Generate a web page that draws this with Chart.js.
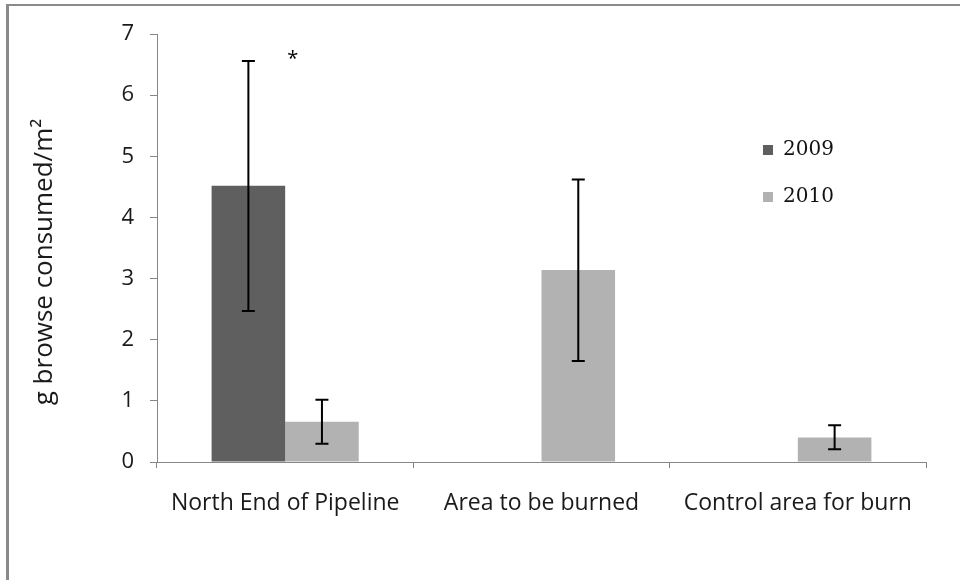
<!DOCTYPE html>
<html>
<head>
<meta charset="utf-8">
<script src="https://cdn.jsdelivr.net/npm/chart.js@4.4.1/dist/chart.umd.min.js"></script>
<style>
  html, body { margin: 0; padding: 0; background: #fff; }
  #wrap { position: relative; width: 960px; height: 580px; overflow: hidden; }
  #frame { position: absolute; left: 6px; top: 4px; width: 1000px; height: 1000px;
           border-left: 3px solid #8a8a8a; border-top: 2px solid #8a8a8a; }
  canvas { position: absolute; left: 0; top: 0; }
</style>
</head>
<body>
<div id="wrap">
  <div id="frame"></div>
  <canvas id="chart" width="960" height="580"></canvas>
</div>
<script>
// browse consumption per site, mean with error range
const sites = ['North End of Pipeline', 'Area to be burned', 'Control area for burn'];
const years = ['2009', '2010'];
const mean2009 = [4.52, null, null];
const low2009 = [2.47, null, null];
const high2009 = [6.56, null, null];
const mean2010 = [0.66, 3.14, 0.40];
const low2010 = [0.30, 1.65, 0.21];
const high2010 = [1.02, 4.62, 0.60];
const marks2009 = ['*', '', ''];
const yTicks = [0, 1, 2, 3, 4, 5, 6, 7];
const yTitle = 'g browse consumed/m²';

const colors = ['#5f5f5f', '#b2b2b2'];
const axisGray = '#868686';
const sansFont = "'Open Sans', sans-serif";

const errorBars = {
  id: 'errorBars',
  afterDatasetsDraw(chart) {
    const ctx = chart.ctx;
    const y = chart.scales.y;
    chart.data.datasets.forEach((ds, i) => {
      const meta = chart.getDatasetMeta(i);
      meta.data.forEach((bar, j) => {
        if (ds.low[j] == null) return;
        const yl = y.getPixelForValue(ds.low[j]);
        const yh = y.getPixelForValue(ds.high[j]);
        ctx.save();
        ctx.strokeStyle = '#000';
        ctx.lineWidth = 2;
        ctx.beginPath();
        ctx.moveTo(bar.x, yl); ctx.lineTo(bar.x, yh);
        ctx.moveTo(bar.x - 6.5, yl); ctx.lineTo(bar.x + 6.5, yl);
        ctx.moveTo(bar.x - 6.5, yh); ctx.lineTo(bar.x + 6.5, yh);
        ctx.stroke();
        if (ds.marks && ds.marks[j]) {
          ctx.fillStyle = '#000';
          ctx.font = "20px " + sansFont;
          ctx.textAlign = 'left';
          ctx.textBaseline = 'middle';
          ctx.fillText(ds.marks[j], bar.x + bar.width / 2 + 2, yh - 2);
        }
        ctx.restore();
      });
    });
  }
};

// legend sits inside the plot, to the right
const sideLegend = {
  id: 'sideLegend',
  afterDraw(chart) {
    const ctx = chart.ctx;
    ctx.save();
    ctx.font = "20px 'DejaVu Serif', serif";
    ctx.textBaseline = 'middle';
    chart.data.datasets.forEach((ds, i) => {
      const cy = 150 + i * 47;
      ctx.fillStyle = ds.backgroundColor;
      ctx.fillRect(763, cy - 5, 10, 10);
      ctx.fillStyle = '#111';
      ctx.fillText(ds.label, 783, cy);
    });
    ctx.restore();
  }
};

// rotated y title, a little below the plot middle
const yTitleLabel = {
  id: 'yTitleLabel',
  afterDraw(chart) {
    const ctx = chart.ctx;
    ctx.save();
    ctx.translate(45, 262);
    ctx.rotate(-Math.PI / 2);
    ctx.font = "26px " + sansFont;
    ctx.fillStyle = '#1a1a1a';
    ctx.textAlign = 'center';
    ctx.textBaseline = 'middle';
    ctx.fillText(yTitle, 0, 0);
    ctx.restore();
  }
};

new Chart(document.getElementById('chart'), {
  type: 'bar',
  data: {
    labels: sites,
    datasets: [
      { label: years[0], data: mean2009, low: low2009, high: high2009, marks: marks2009,
        backgroundColor: colors[0] },
      { label: years[1], data: mean2010, low: low2010, high: high2010,
        backgroundColor: colors[1] }
    ]
  },
  options: {
    responsive: false,
    animation: false,
    categoryPercentage: 0.574,
    barPercentage: 1,
    layout: { padding: { top: 34, right: 34, left: 0, bottom: 0 } },
    plugins: { legend: { display: false }, tooltip: { enabled: false } },
    scales: {
      x: {
        grid: { offset: true, drawOnChartArea: false, color: axisGray, tickLength: 6 },
        border: { color: axisGray },
        ticks: { color: '#1a1a1a', font: { family: sansFont, size: 23 }, padding: 22 },
        afterFit: s => { s.height = 118; }
      },
      y: {
        min: 0, max: 7,
        afterBuildTicks: s => { s.ticks = yTicks.map(v => ({ value: v })); },
        grid: { drawOnChartArea: false, color: axisGray, tickLength: 7 },
        border: { color: axisGray },
        ticks: { color: '#1a1a1a', font: { family: sansFont, size: 22 }, padding: 16 },
        afterFit: s => { s.width = 157; }
      }
    }
  },
  plugins: [errorBars, sideLegend, yTitleLabel]
});
</script>
</body>
</html>
